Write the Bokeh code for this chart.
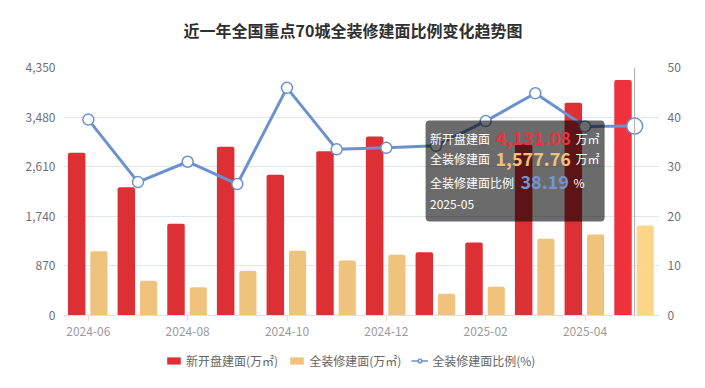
from bokeh.plotting import figure
from bokeh.layouts import column
from bokeh.models import (ColumnDataSource, Range1d, LinearAxis, FixedTicker, NumeralTickFormatter,
                          Legend, LegendItem, Label, BoxAnnotation, Span, CDSView, IndexFilter)
from bokeh.transform import dodge
from bokeh.embed import file_html
from bokeh.resources import INLINE

# ---- data ----
months = ["2024-06", "2024-07", "2024-08", "2024-09", "2024-10", "2024-11",
          "2024-12", "2025-01", "2025-02", "2025-03", "2025-04", "2025-05"]
new_open = [2854, 2251, 1608, 2959, 2468, 2882, 3140, 1111, 1280, 3000, 3731, 4131.08]
full_dec = [1128, 608, 497, 783, 1134, 965, 1065, 380, 503, 1345, 1421, 1577.76]
ratio = [39.5, 26.9, 31.0, 26.5, 45.9, 33.5, 33.8, 34.2, 39.2, 44.8, 38.1, 38.19]
left_ticks = [0, 870, 1740, 2610, 3480, 4350]
right_ticks = [0, 10, 20, 30, 40, 50]

title_text = "近一年全国重点70城全装修建面比例变化趋势图"
series_names = ["新开盘建面(万㎡)", "全装修建面(万㎡)", "全装修建面比例(%)"]
tip_names = ["新开盘建面", "全装修建面", "全装修建面比例"]

FONT = "Noto Sans CJK SC"
RED, RED_HI = "#dc3035", "#ef333d"
GOLD, GOLD_HI = "#efc37c", "#ffd689"
BLUE = "#6b92ce"

n = len(months)
xs = [i + 0.5 for i in range(n)]
red_cols = [RED] * (n - 1) + [RED_HI]
gold_cols = [GOLD] * (n - 1) + [GOLD_HI]

src = ColumnDataSource(dict(x=xs, month=months, new_open=new_open, full_dec=full_dec,
                            ratio=ratio, red_col=red_cols, gold_col=gold_cols))

def strip(height):
    f = figure(width=705, height=height, output_backend="svg", toolbar_location=None,
               x_axis_location=None, y_axis_location=None,
               x_range=Range1d(0, 1), y_range=Range1d(0, 1),
               min_border_left=0, min_border_right=0, min_border_top=0, min_border_bottom=0)
    f.outline_line_color = None
    f.grid.visible = False
    return f

# ---- title strip (its frame aligns with the chart frame) ----
tf = strip(40)
tf.add_layout(Label(x=289.5, y=11, x_units="screen", y_units="screen", text=title_text,
                    text_align="center", text_baseline="middle", text_font=FONT,
                    text_font_size="16px", text_font_style="bold", text_color="#2f2f2f"))

# ---- main chart ----
p = figure(width=705, height=310, output_backend="svg", toolbar_location=None,
           x_range=Range1d(0, n), y_range=Range1d(left_ticks[0], left_ticks[-1]),
           min_border_left=63, min_border_right=46, min_border_top=27, min_border_bottom=35)
p.extra_y_ranges = {"pct": Range1d(right_ticks[0], right_ticks[-1])}
p.outline_line_color = None
p.background_fill_color = "white"
p.border_fill_color = "white"

# grid
p.xgrid.visible = False
p.ygrid.grid_line_color = "#e0e6f1"
p.ygrid.grid_line_width = 1

def style_y(ax):
    ax.axis_line_color = None
    ax.major_tick_line_color = None
    ax.minor_tick_line_color = None
    ax.major_tick_out = 0
    ax.major_tick_in = 0
    ax.major_label_standoff = 8
    ax.major_label_text_font = FONT
    ax.major_label_text_font_size = "12px"
    ax.major_label_text_color = "#6e7079"

# left axis
ya = p.yaxis[0]
ya.ticker = FixedTicker(ticks=left_ticks)
ya.formatter = NumeralTickFormatter(format="0,0")
style_y(ya)

# right axis
ra = LinearAxis(y_range_name="pct", ticker=FixedTicker(ticks=right_ticks))
style_y(ra)
p.add_layout(ra, "right")

# x axis
xa = p.xaxis[0]
label_x = xs[::2]
xa.ticker = FixedTicker(ticks=label_x)
xa.major_label_overrides = {x: months[i * 2] for i, x in enumerate(label_x)}
xa.axis_line_color = "#dcdfe6"
xa.major_tick_line_color = "#dcdfe6"
xa.major_tick_in = 0
xa.major_tick_out = 5
xa.minor_tick_line_color = None
xa.major_label_standoff = 6
xa.major_label_text_font = FONT
xa.major_label_text_font_size = "12px"
xa.major_label_text_color = "#9a9a9a"

# bars
p.vbar(x=dodge("x", -0.235, range=p.x_range), top="new_open", width=0.352, source=src,
       fill_color="red_col", line_color=None, border_radius=(2, 2, 0, 0))
p.vbar(x=dodge("x", 0.213, range=p.x_range), top="full_dec", width=0.345, source=src,
       fill_color="gold_col", line_color=None, border_radius=(2, 2, 0, 0))

# line
p.line("x", "ratio", source=src, y_range_name="pct", line_color=BLUE, line_width=3)
p.scatter("x", "ratio", source=src, view=CDSView(filter=IndexFilter(list(range(n - 1)))),
          y_range_name="pct", size=11, fill_color="white", line_color=BLUE, line_width=1.5)
p.scatter("x", "ratio", source=src, view=CDSView(filter=IndexFilter([n - 1])),
          y_range_name="pct", size=16, fill_color="white", line_color=BLUE, line_width=1.5)

# axis pointer
p.add_layout(Span(location=xs[-1], dimension="height", line_color="#aaaaaa", line_width=1))

# tooltip (hover state of last month); screen units relative to the plot frame
p.add_layout(BoxAnnotation(left=362.1, right=541.1, top=195, bottom=94,
                           left_units="screen", right_units="screen", top_units="screen", bottom_units="screen",
                           fill_color="black", fill_alpha=0.58, line_color=None, border_radius=4))

def tlabel(x, y, text, color="white", size="12px", bold=False):
    p.add_layout(Label(x=x, y=y, x_units="screen", y_units="screen", text=text,
                       text_align="left", text_baseline="middle", text_font=FONT,
                       text_font_size=size, text_font_style="bold" if bold else "normal",
                       text_color=color))

tlabel(366.5, 177.3, tip_names[0])
tlabel(432, 177.3, f"{new_open[-1]:,.2f}", "#e5353c", "18px", True)
tlabel(512, 177.3, "万㎡")
tlabel(366.5, 156.7, tip_names[1])
tlabel(432, 156.7, f"{full_dec[-1]:,.2f}", "#efc27a", "18px", True)
tlabel(512, 156.7, "万㎡")
tlabel(366.5, 133.3, tip_names[2])
tlabel(457, 133.3, f"{ratio[-1]:.2f}", "#6f96d2", "18px", True)
tlabel(510, 133.3, "%")
tlabel(366.5, 111, months[-1])

# ---- legend strip (separate figure below the chart; its frame aligns with the chart frame) ----
lg = strip(38)
k_red = lg.vbar(x="x", top="new_open", width=1, source=src, fill_color=RED, line_color=None, visible=False)
k_gold = lg.vbar(x="x", top="full_dec", width=1, source=src, fill_color=GOLD, line_color=None, visible=False)
k_line = lg.line("x", "ratio", source=src, line_color=BLUE, line_width=1.5, visible=False)
k_pts = lg.scatter("x", "ratio", source=src, size=8, fill_color="white", line_color=BLUE,
                   line_width=1.5, visible=False)
legend = Legend(items=[LegendItem(label=series_names[0], renderers=[k_red]),
                       LegendItem(label=series_names[1], renderers=[k_gold]),
                       LegendItem(label=series_names[2], renderers=[k_line, k_pts])],
                orientation="horizontal", location=(102, 19),
                glyph_width=17, glyph_height=9, label_height=9, label_standoff=4, spacing=10,
                padding=0, margin=0, background_fill_alpha=0, border_line_alpha=0,
                label_text_font=FONT, label_text_font_size="12px", label_text_color="#666666")
lg.add_layout(legend)

layout = column(tf, p, lg, spacing=0)
open("out.html", "w").write(file_html(layout, INLINE))
